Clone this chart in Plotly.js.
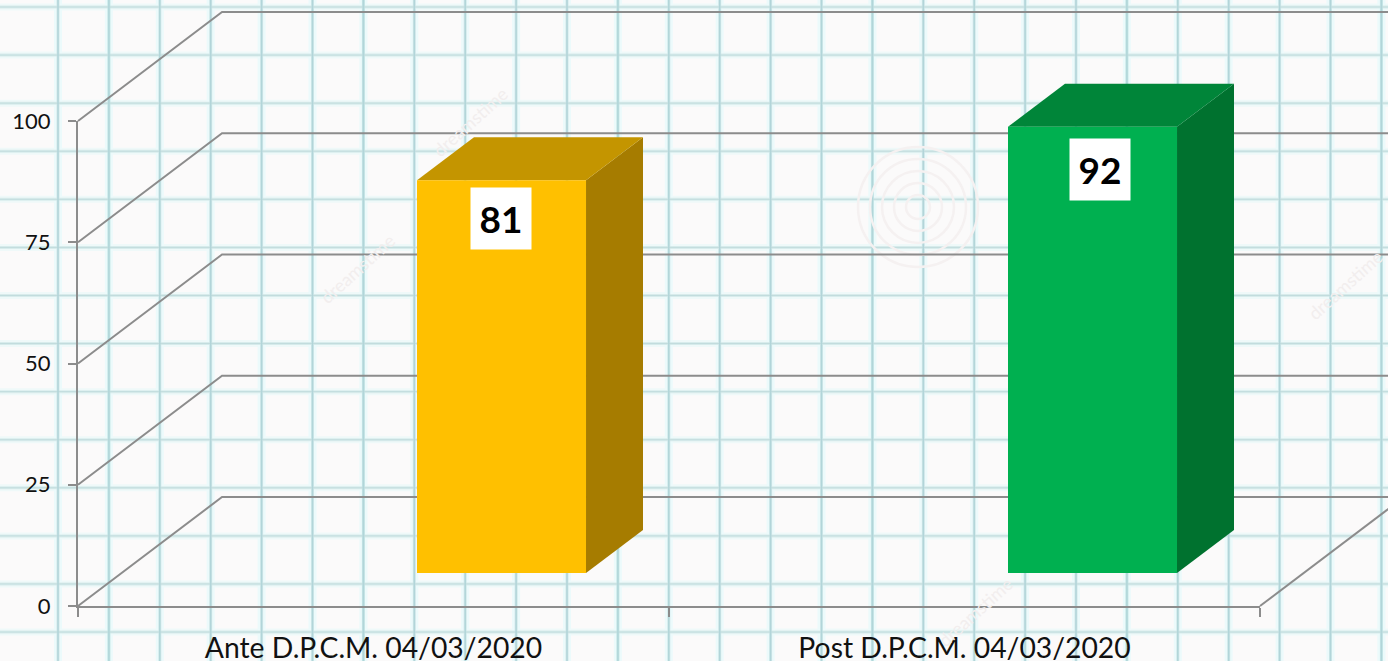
<!DOCTYPE html>
<html>
<head>
<meta charset="utf-8">
<script src="https://cdn.plot.ly/plotly-3.0.1.min.js"></script>
<style>html,body{margin:0;padding:0;background:#fbfafa;overflow:hidden}#chart{width:1388px;height:661px}</style>
</head>
<body>
<div id="chart"></div>
<script>
// ---- data ----
const categories = ["Ante D.P.C.M. 04/03/2020", "Post D.P.C.M. 04/03/2020"];
const values = [81, 92];
const yTicks = [0, 25, 50, 75, 100];
const frontColors = ["#ffc000", "#00b050"];
const topColors = ["#c49500", "#008539"];
const sideColors = ["#a67c00", "#00722f"];

// ---- 3-D look (in axis units) ----
const wallDx = 0.2437, wallDy = 22.47;     // depth of the box floor
const barDx = 0.0964, barDy = 8.87;        // depth of one bar
const barOffset = 0.2166, barHalf = 0.143, barBase = 6.8;
const GRID = "#8c8c8c";

// ---- page frame (px) ----
const W = 1388, H = 661, L = 78, R = 128, T = 121, B = 55;
const unitX = (W - L - R) / 2, unitY = (H - T - B) / 100;
const px = p => p / W;
const py = p => 1 - p / H;

// the visible axes live on x/y; the marks live on x2/y2, the same scale stretched over the whole page
const traces = [{x: [], y: [], type: "scatter", mode: "none", hoverinfo: "skip", showlegend: false}];
const line = (x, y) => traces.push({x, y, xaxis: "x2", yaxis: "y2", type: "scatter", mode: "lines",
  line: {color: GRID, width: 2}, hoverinfo: "skip", showlegend: false});
const poly = (x, y, c) => traces.push({x, y, xaxis: "x2", yaxis: "y2", type: "scatter", mode: "lines", fill: "toself", fillcolor: c,
  line: {color: c, width: 0}, hoverinfo: "skip", showlegend: false});

// box: wall lines at each tick, floor diagonal on the right
yTicks.forEach(v => line([-0.5, -0.5 + wallDx, 1.5 + wallDx], [v, v + wallDy, v + wallDy]));
line([1.5, 1.5 + wallDx], [0, wallDy]);

// bars
categories.forEach((c, i) => {
  const x0 = i + barOffset - barHalf, x1 = i + barOffset + barHalf, top = barBase + values[i];
  poly([x1, x1 + barDx, x1 + barDx, x1, x1], [barBase, barBase + barDy, top + barDy, top, barBase], sideColors[i]);
  poly([x0, x1, x1 + barDx, x0 + barDx, x0], [top, top, top + barDy, top + barDy, top], topColors[i]);
  poly([x0, x1, x1, x0, x0], [barBase, barBase, top, top, barBase], frontColors[i]);
});

// graph-paper background
const shapes = [];
const vLines = [], hLines = [];
for (let k = 0; k < 27; k++) vLines.push(58 + 50.9 * k);
for (let k = 0; k < 14; k++) hLines.push(7 + 48.08 * k);
const seg = (x0, y0, x1, y1, color, width) => shapes.push({type: "line", xref: "paper", yref: "paper", layer: "below",
  x0: px(x0), x1: px(x1), y0: py(y0), y1: py(y1), line: {color, width}});
hLines.forEach(y => { seg(0, y, W, y, "#eff9f9", 7); });
vLines.forEach(x => { seg(x, 0, x, H, "#ecfafb", 8); });
hLines.forEach(y => { seg(0, y, W, y, "#d8ecec", 3); });
vLines.forEach((x, i) => { seg(x, 0, x, H, i % 5 === 1 ? "#c4e6e6" : "#d1e8ea", 3); });
hLines.forEach(y => { seg(0, y, W, y, "#c2dcdd", 1); });
vLines.forEach(x => { seg(x, 0, x, H, "#b2d5d9", 1.5); });
// faint watermark rings
[12, 24, 36, 48, 60].forEach(r => shapes.push({type: "circle", xref: "paper", yref: "paper", layer: "below",
  x0: px(918 - r), x1: px(918 + r), y0: py(207 + r), y1: py(207 - r), line: {color: "#f5f1f1", width: 2.5}}));

// value labels
const labelShift = [[-0.5, 1], [7.5, 5]];
const annotations = values.map((v, i) => ({
  x: i + barOffset, y: barBase + v, xref: "x2", yref: "y2", text: "<b>" + v + "</b>", showarrow: false,
  xanchor: "center", yanchor: "middle", xshift: labelShift[i][0], yshift: -37.5 - labelShift[i][1],
  width: 60, height: 61, borderpad: 0, bgcolor: "#ffffff", align: "center", valign: "middle",
  font: {family: "Lato, sans-serif", size: 37, color: "#000000"}
}));
// faint stock-photo watermarks
[[358, 268], [470, 122], [1345, 285], [975, 612]].forEach(p => annotations.push({
  x: px(p[0]), y: py(p[1]), xref: "paper", yref: "paper", xanchor: "center", yanchor: "middle",
  text: "dreamstime", showarrow: false, textangle: -42,
  font: {family: "Lato, sans-serif", size: 18, color: "#f2eeee"}
}));

const layout = {
  width: W, height: H,
  margin: {l: 0, r: 0, t: 0, b: 0, pad: 0},
  paper_bgcolor: "#fbfafa", plot_bgcolor: "rgba(0,0,0,0)",
  showlegend: false, shapes, annotations,
  font: {family: "Lato, sans-serif", color: "#111111"},
  xaxis: {
    domain: [L / W, (W - R) / W], anchor: "y",
    range: [-0.5, 1.5], tickvals: [0, 1], ticktext: categories, ticks: "", showgrid: false, zeroline: false,
    showline: true, linecolor: GRID, linewidth: 2, ticklabelstandoff: 16, tickangle: 0,
    tickfont: {family: "Lato, sans-serif", size: 28.3, color: "#111111"},
    minor: {tickvals: [-0.5, 0.5, 1.5], ticks: "outside", ticklen: 9, tickwidth: 2, tickcolor: GRID, showgrid: false}
  },
  yaxis: {
    domain: [B / H, (H - T) / H], anchor: "x",
    range: [0, 100], tickvals: yTicks, ticks: "outside", ticklen: 8, tickwidth: 2, tickcolor: GRID, showgrid: false, zeroline: false,
    showline: true, linecolor: GRID, linewidth: 2, ticklabelstandoff: 13,
    tickfont: {family: "Lato, sans-serif", size: 22, color: "#111111"}
  },
  xaxis2: {domain: [0, 1], anchor: "y2", visible: false, range: [-0.5 - L / unitX, 1.5 + R / unitX]},
  yaxis2: {domain: [0, 1], anchor: "x2", visible: false, range: [-B / unitY, 100 + T / unitY]}
};
Plotly.newPlot("chart", traces, layout, {displayModeBar: false, staticPlot: true});
</script>
</body>
</html>
